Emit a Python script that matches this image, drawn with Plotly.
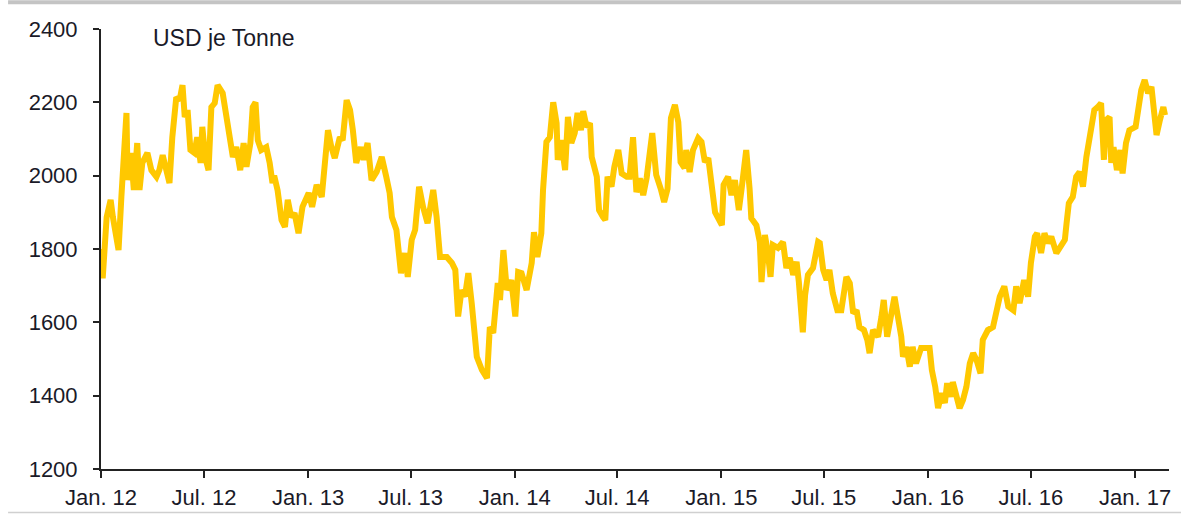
import plotly.graph_objects as go

# Preis in USD je Tonne, Jan. 2012 bis Feb. 2017
dates = [
    "2012-01-02", "2012-01-04", "2012-01-11", "2012-01-18", "2012-01-22", "2012-02-01", "2012-02-06",
    "2012-02-15", "2012-02-17", "2012-02-23", "2012-02-28", "2012-03-05", "2012-03-09", "2012-03-14",
    "2012-03-23", "2012-03-30", "2012-04-08", "2012-04-13", "2012-04-19", "2012-04-25", "2012-05-01",
    "2012-05-06", "2012-05-13", "2012-05-19", "2012-05-24", "2012-05-28", "2012-06-02", "2012-06-07",
    "2012-06-14", "2012-06-19", "2012-06-25", "2012-06-28", "2012-07-03", "2012-07-09", "2012-07-14",
    "2012-07-20", "2012-07-25", "2012-08-03", "2012-08-10", "2012-08-15", "2012-08-21", "2012-08-27",
    "2012-09-03", "2012-09-09", "2012-09-14", "2012-09-21", "2012-09-25", "2012-09-30", "2012-10-04",
    "2012-10-10", "2012-10-19", "2012-10-25", "2012-10-30", "2012-11-02", "2012-11-08", "2012-11-15",
    "2012-11-21", "2012-11-26", "2012-12-02", "2012-12-08", "2012-12-15", "2012-12-22",
    "2013-01-02", "2013-01-08", "2013-01-16", "2013-01-25", "2013-01-31", "2013-02-05", "2013-02-11",
    "2013-02-17", "2013-02-26", "2013-03-03", "2013-03-10", "2013-03-16", "2013-03-21", "2013-03-27",
    "2013-04-04", "2013-04-09", "2013-04-16", "2013-04-23", "2013-05-02", "2013-05-11", "2013-05-19",
    "2013-05-25", "2013-05-29", "2013-06-06", "2013-06-14", "2013-06-21", "2013-06-26", "2013-07-03",
    "2013-07-09", "2013-07-16", "2013-07-23", "2013-07-31", "2013-08-10", "2013-08-16", "2013-08-22",
    "2013-09-03", "2013-09-12", "2013-09-18", "2013-09-23", "2013-09-29", "2013-10-05", "2013-10-11",
    "2013-10-17", "2013-10-26", "2013-11-04", "2013-11-13", "2013-11-18", "2013-11-24", "2013-12-02",
    "2013-12-06", "2013-12-12", "2013-12-18", "2013-12-26",
    "2014-01-02", "2014-01-07", "2014-01-13", "2014-01-22", "2014-01-31", "2014-02-04", "2014-02-10",
    "2014-02-17", "2014-02-20", "2014-02-26", "2014-03-04", "2014-03-10", "2014-03-16", "2014-03-18",
    "2014-03-24", "2014-03-31", "2014-04-05", "2014-04-11", "2014-04-17", "2014-04-22", "2014-04-28",
    "2014-05-02", "2014-05-08", "2014-05-14", "2014-05-17", "2014-05-26", "2014-05-30", "2014-06-06",
    "2014-06-10", "2014-06-14", "2014-06-21", "2014-06-26", "2014-07-03", "2014-07-09", "2014-07-18",
    "2014-07-23", "2014-07-29", "2014-08-04", "2014-08-10", "2014-08-16", "2014-08-22", "2014-09-01",
    "2014-09-08", "2014-09-16", "2014-09-22", "2014-09-28", "2014-10-04", "2014-10-11", "2014-10-17",
    "2014-10-21", "2014-10-28", "2014-10-31", "2014-11-06", "2014-11-12", "2014-11-21", "2014-11-27",
    "2014-12-03", "2014-12-09", "2014-12-15", "2014-12-21",
    "2015-01-02", "2015-01-05", "2015-01-13", "2015-01-19", "2015-01-25", "2015-02-01", "2015-02-06",
    "2015-02-14", "2015-02-20", "2015-02-23", "2015-03-04", "2015-03-10", "2015-03-13", "2015-03-19",
    "2015-03-24", "2015-03-29", "2015-04-02", "2015-04-11", "2015-04-20", "2015-04-26", "2015-05-02",
    "2015-05-08", "2015-05-14", "2015-05-18", "2015-05-25", "2015-05-29", "2015-06-03", "2015-06-12",
    "2015-06-21", "2015-06-24", "2015-06-30", "2015-07-06", "2015-07-11", "2015-07-17", "2015-07-25",
    "2015-08-01", "2015-08-10", "2015-08-16", "2015-08-22", "2015-08-28", "2015-09-02", "2015-09-10",
    "2015-09-16", "2015-09-20", "2015-09-26", "2015-10-05", "2015-10-11", "2015-10-15", "2015-10-21",
    "2015-10-28", "2015-11-03", "2015-11-09", "2015-11-15", "2015-11-18", "2015-11-24", "2015-11-30",
    "2015-12-05", "2015-12-11", "2015-12-20",
    "2016-01-04", "2016-01-08", "2016-01-14", "2016-01-19", "2016-01-25", "2016-01-31", "2016-02-04",
    "2016-02-10", "2016-02-14", "2016-02-20", "2016-02-26", "2016-03-03", "2016-03-09", "2016-03-15",
    "2016-03-21", "2016-03-27", "2016-04-03", "2016-04-07", "2016-04-16", "2016-04-25", "2016-05-03",
    "2016-05-07", "2016-05-15", "2016-05-22", "2016-05-31", "2016-06-05", "2016-06-11", "2016-06-19",
    "2016-06-26", "2016-07-01", "2016-07-08", "2016-07-12", "2016-07-19", "2016-07-25", "2016-07-31",
    "2016-08-06", "2016-08-15", "2016-08-23", "2016-08-30", "2016-09-02", "2016-09-06", "2016-09-13",
    "2016-09-19", "2016-09-25", "2016-10-01", "2016-10-07", "2016-10-13", "2016-10-16", "2016-10-21",
    "2016-10-27", "2016-11-02", "2016-11-07", "2016-11-11", "2016-11-17", "2016-11-20", "2016-11-24",
    "2016-11-30", "2016-12-06", "2016-12-10", "2016-12-16", "2016-12-22",
    "2017-01-02", "2017-01-06", "2017-01-12", "2017-01-18", "2017-01-24", "2017-01-30", "2017-02-05",
    "2017-02-08", "2017-02-14", "2017-02-20", "2017-02-23",
]

prices = [
    1800, 1720, 1887, 1934, 1887, 1797, 1942,
    2171, 1988, 2062, 1961, 2089, 1961, 2035,
    2062, 2015, 1997, 2015, 2056, 2024, 1980,
    2105, 2214, 2206, 2247, 2160, 2179, 2070,
    2062, 2105, 2035, 2133, 2051, 2015, 2187,
    2198, 2247, 2225, 2160, 2089, 2051, 2078,
    2015, 2089, 2024, 2089, 2187, 2200, 2097,
    2070, 2078, 2035, 1980, 2000, 1960, 1879,
    1860, 1934, 1887, 1898, 1843, 1915,
    1953, 1915, 1975, 1942, 2043, 2124, 2078,
    2048, 2105, 2097, 2206, 2179, 2124, 2035,
    2078, 2043, 2089, 1988, 2010, 2051, 1997,
    1953, 1887, 1852, 1734, 1789, 1724, 1825,
    1852, 1970, 1915, 1870, 1961, 1887, 1778,
    1778, 1762, 1743, 1616, 1688, 1670, 1734,
    1652, 1506, 1470, 1448, 1587, 1571, 1707,
    1661, 1797, 1688, 1715,
    1616, 1737, 1734, 1688, 1762, 1846, 1778,
    1843, 1961, 2092, 2105, 2200, 2143, 2043,
    2097, 2015, 2160, 2089, 2116, 2171, 2124,
    2176, 2133, 2143, 2051, 1997, 1906, 1887,
    1879, 1997, 1970, 2024, 2070, 2006, 1997,
    1997, 2105, 1955, 1993, 1947, 1993, 2116,
    2002, 1964, 1928, 1964, 2157, 2193, 2146,
    2037, 2021, 2070, 2010, 2070, 2102, 2092,
    2037, 2048, 1964, 1900,
    1865, 1975, 1997, 1947, 1988, 1906, 1966,
    2070, 1964, 1884, 1865, 1819, 1710, 1838,
    1792, 1724, 1811, 1803, 1819, 1748, 1776,
    1729, 1765, 1710, 1573, 1674, 1729, 1748,
    1819, 1816, 1743, 1715, 1743, 1679, 1633,
    1633, 1724, 1707, 1625, 1633, 1587, 1579,
    1552, 1516, 1579, 1561, 1615, 1661, 1561,
    1633, 1670, 1615, 1561, 1506, 1533, 1479,
    1533, 1488, 1530,
    1530, 1470, 1424, 1366, 1407, 1380, 1434,
    1397, 1437, 1407, 1366, 1388, 1424, 1488,
    1516, 1497, 1461, 1552, 1579, 1587, 1633,
    1670, 1698, 1643, 1633, 1698, 1652, 1715,
    1670, 1762, 1834, 1843, 1789, 1843, 1816,
    1834, 1789, 1806, 1825, 1870, 1925, 1942,
    1997, 2010, 1970, 2051, 2105, 2152, 2179,
    2187, 2198, 2043, 2152, 2160, 2035, 2078,
    2015, 2070, 2006, 2089, 2124,
    2133, 2171, 2234, 2261, 2225, 2242, 2143,
    2111, 2152, 2187, 2165,
]

# Halbjahres-Achsenbeschriftung
tick_dates = [
    "2012-01-01", "2012-07-01", "2013-01-01", "2013-07-01", "2014-01-01", "2014-07-01",
    "2015-01-01", "2015-07-01", "2016-01-01", "2016-07-01", "2017-01-01",
]
tick_labels = [
    "Jan. 12", "Jul. 12", "Jan. 13", "Jul. 13", "Jan. 14", "Jul. 14",
    "Jan. 15", "Jul. 15", "Jan. 16", "Jul. 16", "Jan. 17",
]
y_ticks = [1200, 1400, 1600, 1800, 2000, 2200, 2400]

TEXT = "#1a1a28"
FONT = "Liberation Sans, Arial, sans-serif"

fig = go.Figure()
fig.add_trace(go.Scatter(
    x=dates, y=prices, mode="lines",
    line=dict(color="#FFC800", width=6),
    hoverinfo="skip",
))

fig.update_layout(
    width=1181, height=514,
    margin=dict(l=101, r=12, t=29, b=45),
    paper_bgcolor="white", plot_bgcolor="white",
    showlegend=False,
    font=dict(family=FONT, size=22, color=TEXT),
    xaxis=dict(
        range=["2012-01-01", "2017-03-02"],
        tickmode="array", tickvals=tick_dates, ticktext=tick_labels,
        automargin=False,
        showgrid=False, zeroline=False,
        showline=True, linecolor="#222", linewidth=2,
        ticks="outside", ticklen=7, tickwidth=2, tickcolor="#222",
        ticklabelstandoff=1,
        tickfont=dict(family=FONT, size=22, color=TEXT),
    ),
    yaxis=dict(
        range=[1200, 2400],
        tickmode="array", tickvals=y_ticks,
        automargin=False,
        showgrid=False, zeroline=False,
        showline=True, linecolor="#222", linewidth=2,
        ticks="outside", ticklen=6, tickwidth=2, tickcolor="#222",
        ticklabelstandoff=11,
        tickfont=dict(family=FONT, size=22, color=TEXT),
    ),
    annotations=[dict(
        text="USD je Tonne", xref="paper", yref="paper",
        x=0.047, y=0.98, xanchor="left", yanchor="middle",
        showarrow=False, font=dict(family=FONT, size=23, color=TEXT),
    )],
    shapes=[
        dict(type="line", xref="paper", yref="paper",
             x0=-0.087, x1=1.012, y0=1.061, y1=1.061,
             line=dict(color="#c4c4c4", width=4)),
        dict(type="line", xref="paper", yref="paper",
             x0=-0.087, x1=1.012, y0=-0.099, y1=-0.099,
             line=dict(color="#d0d0d0", width=1.5)),
    ],
)

fig.write_html("out.html")
